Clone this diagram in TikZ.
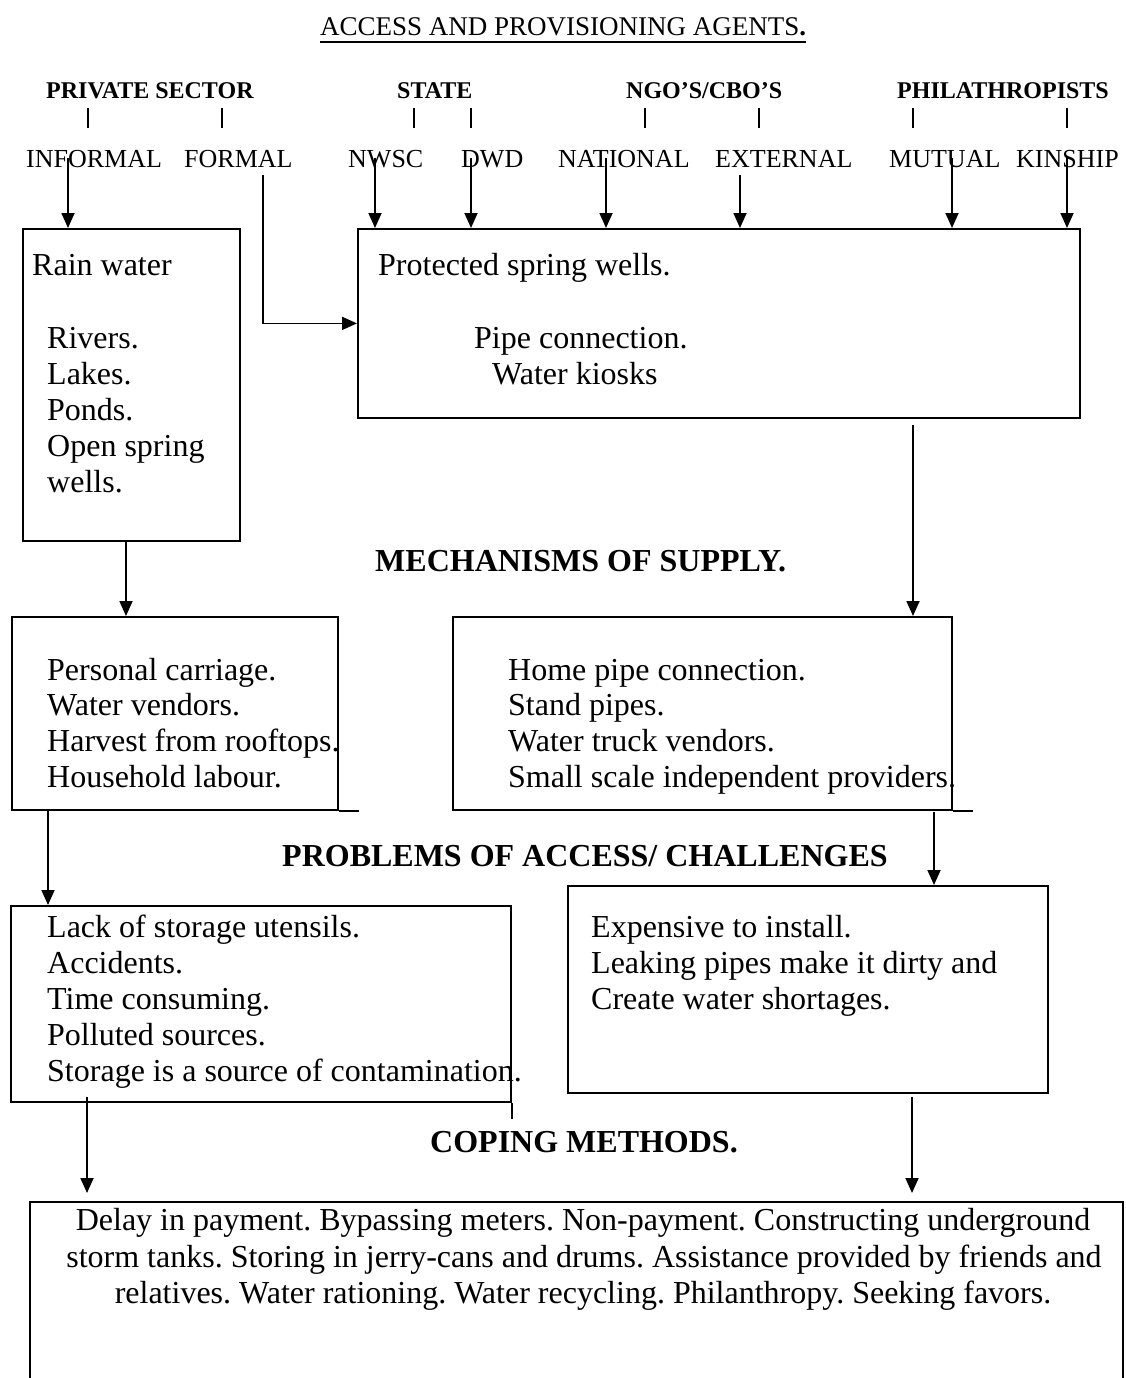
\documentclass[tikz,border=0pt]{standalone}
\usepackage{fontspec}
\setmainfont{Liberation Serif}
\usetikzlibrary{arrows.meta}
\frenchspacing
\begin{document}
\begin{tikzpicture}[x=1pt,y=-1pt,
  body/.style={anchor=base west, inner sep=0pt, font=\fontsize{32}{36}\selectfont},
  cbody/.style={anchor=base, inner sep=0pt, font=\fontsize{32}{36}\selectfont},
  head/.style={anchor=base west, inner sep=0pt, font=\fontsize{32}{36}\selectfont\bfseries},
  agent/.style={anchor=base west, inner sep=0pt, font=\fontsize{24}{28}\selectfont\bfseries},
  sub/.style={anchor=base west, inner sep=0pt, font=\fontsize{26}{30}\selectfont},
  ttl/.style={anchor=base west, inner sep=0pt, font=\fontsize{27}{30}\selectfont},
  box/.style={draw, line width=1.8pt, inner sep=0pt, anchor=north west},
  tick/.style={line width=1.5pt},
  wire/.style={line width=1.8pt},
  arr/.style={line width=1.8pt, -{Triangle[width=13pt,length=15pt]}}]
\useasboundingbox (0,0) rectangle (1125,1378);

% title
\node[ttl] (title) at (320,36) {ACCESS AND PROVISIONING AGENTS\textbf{.}};
\draw[line width=2pt] ([yshift=-6pt]title.base west) -- ([yshift=-6pt]title.base east);

% agents
\node[agent] (priv) at (46,99) {PRIVATE SECTOR};
\node[agent] (state) at (397,99) {STATE};
\node[agent] (ngo) at (626,99) {NGO’S/CBO’S};
\node[agent] (phil) at (897,99) {PHILATHROPISTS};
\foreach \x in {88,222,414,471,645,759,913,1067}
  \draw[tick] (\x,108) -- (\x,128);

% sub agents
\node[sub] (informal) at (26,167) {INFORMAL};
\node[sub] (formal) at (184,167) {FORMAL};
\node[sub] (nwsc) at (348,167) {NWSC};
\node[sub] (dwd) at (461,167) {DWD};
\node[sub] (national) at (558,167) {NATIONAL};
\node[sub] (external) at (715,167) {EXTERNAL};
\node[sub] (mutual) at (889,167) {MUTUAL};
\node[sub] (kinship) at (1016,167) {KINSHIP};

% sources boxes
\node[box, minimum width=217pt, minimum height=312pt] (rain) at (22,228) {};
\node[box, minimum width=722pt, minimum height=189pt] (big) at (357,228) {};

\node[body] (rainw) at (32,275) {Rain water};
\foreach \t [count=\i] in {Rivers., Lakes., Ponds., Open spring, wells.}
  \node[body] (rainl\i) at (47,{348+36*(\i-1)}) {\t};

\node[body] (prot) at (378,275) {Protected spring wells.};
\node[body] (pipe) at (474,348) {Pipe connection.};
\node[body] (kiosk) at (492,384) {Water kiosks};

% arrows from agents
\draw[arr] (68,158) -- (68,158 |- rain.north);
\draw[arr] (263,175) |- (big.west);
\draw[arr] (375,158) -- (375,158 |- big.north);
\draw[arr] (471,158) -- (471,158 |- big.north);
\draw[arr] (606,158) -- (606,158 |- big.north);
\draw[arr] (740,175) -- (740,175 |- big.north);
\draw[arr] (952,158) -- (952,158 |- big.north);
\draw[arr] (1067,158) -- (1067,158 |- big.north);

% mechanisms
\node[head] (mech) at (375,571) {MECHANISMS OF SUPPLY.};
\node[box, minimum width=326pt, minimum height=193pt] (l2) at (11,616) {};
\node[box, minimum width=499pt, minimum height=193pt] (r2) at (452,616) {};
\draw[wire] (l2.south east) -- ++(20,0);
\draw[wire] (r2.south east) -- ++(20,0);
\foreach \t [count=\i] in {Personal carriage., Water vendors., Harvest from rooftops., Household labour.}
  \node[body] (l2t\i) at (47,{680+35.7*(\i-1)}) {\t};
\foreach \t [count=\i] in {Home pipe connection., Stand pipes., Water truck vendors., Small scale independent providers.}
  \node[body] (r2t\i) at (508,{680+35.7*(\i-1)}) {\t};

\draw[arr] (126,0 |- rain.south) -- (126,0 |- l2.north);
\draw[arr] (913,425) -- (913,0 |- r2.north);

% problems
\node[head] (prob) at (282,866) {PROBLEMS OF ACCESS/ CHALLENGES};
\node[box, minimum width=500pt, minimum height=196pt] (l3) at (10,905) {};
\node[box, minimum width=480pt, minimum height=207pt] (r3) at (567,885) {};
\draw[wire] (l3.south east) -- ++(0,16);
\foreach \t [count=\i] in {Lack of storage utensils., Accidents., Time consuming., Polluted sources., Storage is a source of contamination.}
  \node[body] (l3t\i) at (47,{937+36*(\i-1)}) {\t};
\foreach \t [count=\i] in {Expensive to install., Leaking pipes make it dirty and, Create water shortages.}
  \node[body] (r3t\i) at (591,{937+36*(\i-1)}) {\t};

\draw[arr] (48,0 |- l2.south) -- (48,0 |- l3.north);
\draw[arr] (934,812) -- (934,0 |- r3.north);

% coping
\node[head] (cope) at (430,1152) {COPING METHODS.};
\coordinate (copeNW) at (30,1202);
\coordinate (copeNE) at (1123,1202);
\draw[wire] (30,1378) -- (copeNW) -- (copeNE) -- (1123,1378);
\node[cbody] (c1) at (583,1230) {Delay in payment. Bypassing meters. Non-payment. Constructing underground};
\node[cbody] (c2) at (584,1267) {storm tanks. Storing in jerry-cans and drums. Assistance provided by friends and};
\node[cbody] (c3) at (583,1303) {relatives. Water rationing. Water recycling. Philanthropy. Seeking favors.};

\draw[arr] (87,1097) -- (87,0 |- 0,1193);
\draw[arr] (912,1097) -- (912,0 |- 0,1193);
\end{tikzpicture}
\end{document}
